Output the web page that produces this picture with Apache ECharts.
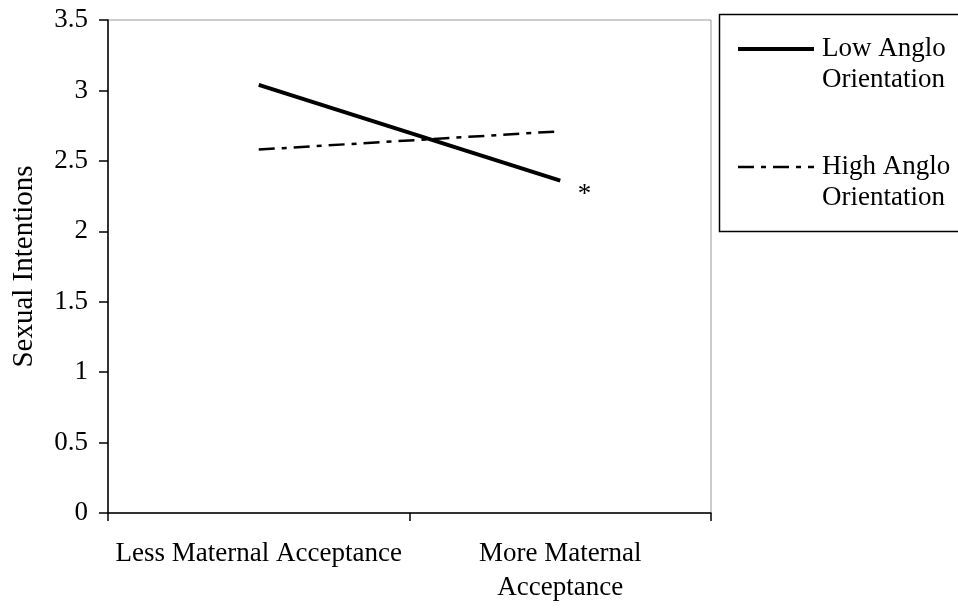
<!DOCTYPE html>
<html>
<head>
<meta charset="utf-8">
<script src="https://cdn.jsdelivr.net/npm/echarts@6/dist/echarts.min.js"></script>
<style>
  html, body { margin: 0; padding: 0; background: #fff; }
  #my_echart { width: 958px; height: 610px; }
</style>
</head>
<body>
<div id="my_echart"></div>
<script>
// 数据
const categories = ["Less Maternal Acceptance", "More Maternal\nAcceptance"];
const seriesNames = ["Low Anglo\nOrientation", "High Anglo\nOrientation"];
const lowAnglo = [3.04, 2.36];
const highAnglo = [2.58, 2.71];
const yTicks = { min: 0, max: 3.5, interval: 0.5 };

const FONT = "Liberation Serif";
const dashDot = [16, 7, 5, 7];

let getchart = echarts.init(document.getElementById("my_echart"));

// 最后一个点上的星号
const lowData = lowAnglo.map((v, i) =>
  i === lowAnglo.length - 1
    ? {
        value: v,
        symbol: "circle",
        symbolSize: 1,
        itemStyle: { color: "rgba(0,0,0,0)" },
        label: {
          show: true,
          formatter: "*",
          position: "right",
          distance: 17,
          offset: [0, 14],
          color: "#000",
          fontFamily: FONT,
          fontSize: 27,
        },
      }
    : v
);

let option = {
  backgroundColor: "#fff",
  animation: false,
  grid: {
    left: 108,
    right: 247,
    top: 20,
    bottom: 97,
    show: true,
    borderColor: "#999", // 上、右边框灰色
    borderWidth: 1,
  },
  legend: {
    orient: "vertical",
    left: 736,
    top: 2.5,
    padding: 0,
    itemWidth: 76,
    itemHeight: 14,
    itemGap: 25,
    itemStyle: { opacity: 0 }, // 不显示图例里的圆点
    data: [
      { name: seriesNames[0], lineStyle: { color: "#000", width: 4 } },
      { name: seriesNames[1], lineStyle: { color: "#000", width: 2.5, type: dashDot } },
    ],
    formatter: (name) => "\n" + name, // 首行对齐图例线
    textStyle: {
      fontFamily: FONT,
      fontSize: 27,
      lineHeight: 31,
      color: "#000",
      padding: [0, 0, 0, 3],
    },
  },
  // 图例外框
  graphic: [
    {
      type: "rect",
      left: 717,
      top: 12,
      shape: { width: 300, height: 217 },
      style: { fill: "none", stroke: "#000", lineWidth: 1.5 },
      silent: true,
    },
  ],
  xAxis: {
    type: "category",
    data: categories,
    boundaryGap: true,
    axisLine: { lineStyle: { color: "#000", width: 1.5 } },
    axisTick: { show: true, length: 8, lineStyle: { color: "#000", width: 1.5 } },
    axisLabel: {
      interval: 0, //不要隐藏横轴数据
      margin: 24,
      color: "#000",
      fontFamily: FONT,
      fontSize: 27,
      lineHeight: 34,
    },
    splitLine: { show: false },
  },
  yAxis: {
    type: "value",
    min: yTicks.min,
    max: yTicks.max,
    interval: yTicks.interval,
    name: "Sexual Intentions",
    nameLocation: "middle",
    nameGap: 69,
    nameTextStyle: { color: "#000", fontFamily: FONT, fontSize: 29 },
    axisLine: { show: true, lineStyle: { color: "#000", width: 1.5 } },
    axisTick: { show: true, length: 9, lineStyle: { color: "#000", width: 1.5 } },
    axisLabel: {
      margin: 20,
      color: "#000",
      fontFamily: FONT,
      fontSize: 27,
    },
    splitLine: { show: false },
  },
  series: [
    {
      name: seriesNames[0],
      type: "line",
      data: lowData,
      symbol: "none",
      lineStyle: { color: "#000", width: 4 },
      itemStyle: { color: "#000" },
    },
    {
      name: seriesNames[1],
      type: "line",
      data: highAnglo,
      symbol: "none",
      lineStyle: { color: "#000", width: 2.5, type: dashDot },
      itemStyle: { color: "#000" },
    },
  ],
};
getchart.setOption(option);
</script>
</body>
</html>
